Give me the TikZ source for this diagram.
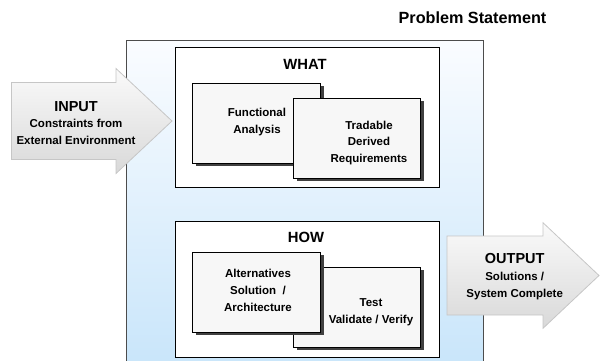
\documentclass[tikz,border=0pt]{standalone}
\usepackage{fontspec}
\setmainfont{Liberation Sans}
\usetikzlibrary{shadows}
\definecolor{paneltop}{HTML}{FAFCFF}
\definecolor{panelbot}{HTML}{C8E5FA}
\tikzset{
  boxtext/.style={font=\bfseries\fontsize{11.5}{16.8}\selectfont, align=center, inner sep=0pt},
  headtext/.style={font=\bfseries\fontsize{14.8}{17}\selectfont, inner sep=0pt},
  group/.style={draw=black, line width=1pt, fill=white, inner sep=0pt, minimum width=264pt},
  card/.style={draw=black, line width=0.8pt, fill=gray!6, inner sep=0pt,
    minimum width=127.3pt, minimum height=80pt,
    drop shadow={shadow xshift=3.5pt, shadow yshift=-3pt, fill=black!75, opacity=1}},
  bigarrow/.style={draw=gray!45, line width=0.8pt, top color=gray!4, bottom color=gray!30},
}
\begin{document}
\begin{tikzpicture}[x=1pt, y=-1pt]
\useasboundingbox (0,0) rectangle (600,360);
\clip (0,0) rectangle (600,360);
% outer panel
\node[draw=gray!60!black, line width=1pt, top color=paneltop, bottom color=panelbot,
  minimum width=357pt, minimum height=330pt, inner sep=0pt] (panel) at (305,205.7) {};
\node[font=\bfseries\fontsize{16.2}{18}\selectfont, inner sep=0pt] (problem) at (472.5,17.3) {Problem Statement};
% what
\node[group, minimum height=140pt] (what) at (307,117.7) {};
\node[headtext] (whatlabel) at (305,64.3) {WHAT};
\node[card] (func) at (256.35,123) {};
\node[card] (trad) at (357,138) {};
\node[boxtext] (functext) at (257,122) {Functional\\Analysis};
\node[boxtext] (tradtext) at ([shift={(12,5)}]trad.center) {Tradable\\Derived\\Requirements};
% how
\node[group, minimum height=135.7pt] (how) at (307,289.2) {};
\node[headtext] (howlabel) at (306,237.7) {HOW};
\node[card] (test) at (357,307) {};
\node[card] (alt) at (256.35,292) {};
\node[boxtext] (alttext) at (258,290.4) {Alternatives\\Solution\ \ /\\Architecture};
\node[boxtext] (testtext) at ([shift={(14,5)}]test.center) {Test\\Validate / Verify};
% arrows
\draw[bigarrow] (11.5,82.5) -- (116,82.5) -- (116,68.5) -- (172,121) -- (116,173.5) -- (116,159.5) -- (11.5,159.5) -- cycle;
\node[boxtext] (intext) at (76,123) {{\fontsize{14.5}{17}\selectfont INPUT}\\Constraints from\\External Environment};
\draw[bigarrow] (447,236) -- (543,236) -- (543,222.7) -- (599,275.5) -- (543,328.3) -- (543,315) -- (447,315) -- cycle;
\node[boxtext] (outtext) at (514.7,276.5) {{\fontsize{14.5}{17}\selectfont OUTPUT}\\Solutions /\\System Complete};
\end{tikzpicture}
\end{document}
